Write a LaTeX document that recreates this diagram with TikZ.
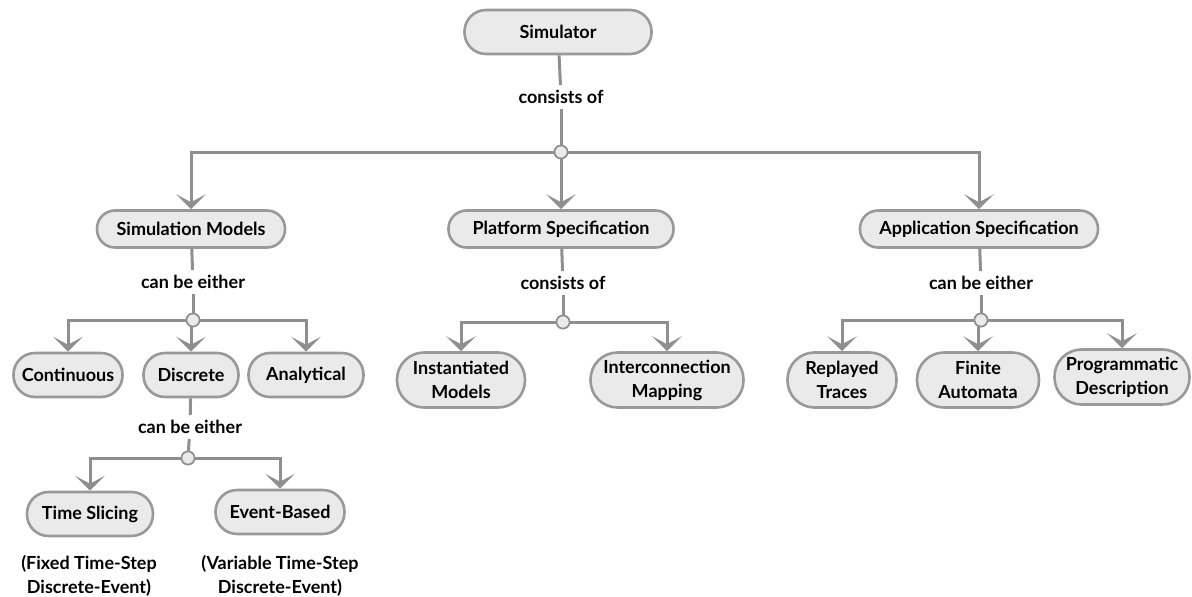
\documentclass[tikz,border=0pt]{standalone}
\usepackage{fontspec}
\setmainfont{Lato}
\usetikzlibrary{arrows.meta}
\definecolor{edgegray}{HTML}{8F8F8F}
\definecolor{boxfill}{HTML}{EAEAEA}
\definecolor{boxline}{HTML}{999999}
\tikzset{
  txt/.style={font=\fontsize{18}{24}\selectfont\bfseries, align=center},
  pill/.style={txt, rectangle, draw=boxline, fill=boxfill, line width=2.6pt, inner sep=0pt},
  pillS/.style={pill, minimum height=37pt, rounded corners=18pt},
  pillM/.style={pill, minimum height=44pt, rounded corners=21.5pt},
  pillL/.style={pill, minimum height=55pt, rounded corners=27pt},
  lbl/.style={txt, inner sep=5pt},
  junction/.style={circle, draw=edgegray, fill=boxfill, line width=1.6pt, minimum size=13pt, inner sep=0pt},
  link/.style={draw=edgegray, line width=3pt},
  arr/.style={link, -{Stealth[length=15pt, width=30pt, inset=8pt]}}
}
\begin{document}
\begin{tikzpicture}[x=1pt, y=-1pt]
\useasboundingbox (0,0) rectangle (1192,597);

% root
\node[pillM, minimum width=187pt] (sim) at (558,32) {Simulator};
\node[lbl] (l0) at (561,97) {consists of};
\node[junction] (j0) at (561,152) {};

% first level
\node[pillS, minimum width=188pt] (sm) at (191,229) {Simulation Models};
\node[pillS, minimum width=225pt] (ps) at (561,229) {Platform Specification};
\node[pillS, minimum width=238pt] (as) at (979,229) {Application Specification};

% simulation models branch
\node[lbl] (l1) at (193,282) {can be either};
\node[junction] (j1) at (193,320) {};
\node[pillM, minimum width=109pt] (cont) at (68,375) {Continuous};
\node[pillM, minimum width=95pt] (disc) at (191,375) {Discrete};
\node[pillM, minimum width=115pt] (anal) at (306,375) {Analytical};

\node[lbl] (l2) at (190,427) {can be either};
\node[junction] (j2) at (188,458) {};
\node[pillM, minimum width=126pt] (ts) at (90,514) {Time Slicing};
\node[pillM, minimum width=129pt] (eb) at (280,512) {Event-Based};
\node[txt] (n1) at (89,576) {(Fixed Time-Step\\Discrete-Event)};
\node[txt] (n2) at (280,576) {(Variable Time-Step\\Discrete-Event)};

% platform specification branch
\node[lbl] (l3) at (563,283) {consists of};
\node[junction] (j3) at (563,322) {};
\node[pillL, minimum width=128pt] (im) at (461,380) {Instantiated\\Models};
\node[pillL, minimum width=153pt] (icm) at (667,380) {Interconnection\\Mapping};

% application specification branch
\node[lbl] (l4) at (981,283) {can be either};
\node[junction] (j4) at (981,320) {};
\node[pillL, minimum width=109pt] (rt) at (842,380) {Replayed\\Traces};
\node[pillL, minimum width=122pt] (fa) at (978,380) {Finite\\Automata};
\node[pillL, minimum width=135pt] (pd) at (1122,377) {Programmatic\\Description};

% connectors
\draw[link] (sim) -- (l0);
\draw[link] (l0) -- (j0);
\draw[arr] (j0) -| (sm.north);
\draw[arr] (j0) -- (ps);
\draw[arr] (j0) -| (as.north);

\draw[link] (sm) -- (l1);
\draw[link] (l1) -- (j1);
\draw[arr] (j1) -| (cont.north);
\draw[arr] (j1) -| (disc.north);
\draw[arr] (j1) -| (anal.north);

\draw[link] (disc) -- (l2);
\draw[link] (l2) -- (j2);
\draw[arr] (j2) -| (ts.north);
\draw[arr] (j2) -| (eb.north);

\draw[link] (ps) -- (l3);
\draw[link] (l3) -- (j3);
\draw[arr] (j3) -| (im.north);
\draw[arr] (j3) -| (icm.north);

\draw[link] (as) -- (l4);
\draw[link] (l4) -- (j4);
\draw[arr] (j4) -| (rt.north);
\draw[arr] (j4) -| (fa.north);
\draw[arr] (j4) -| (pd.north);

% junction dots drawn over the lines
\foreach \j in {j0,j1,j2,j3,j4}
  \node[junction] at (\j) {};
\end{tikzpicture}
\end{document}
